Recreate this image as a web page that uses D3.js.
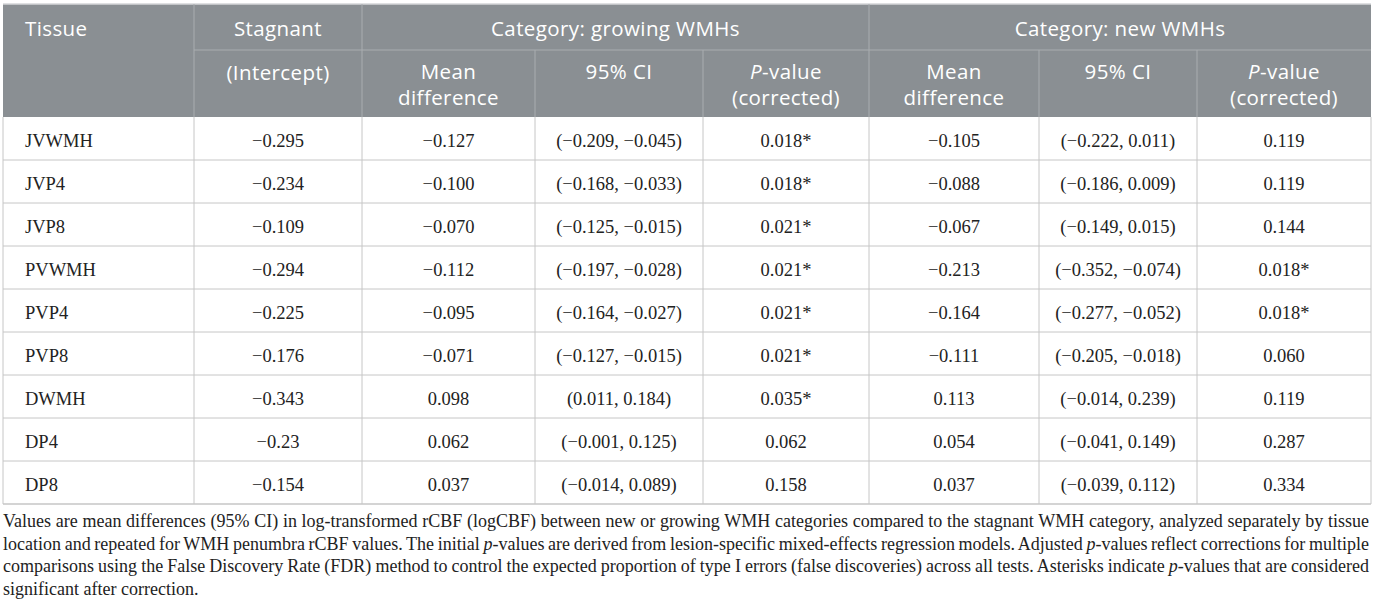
<!DOCTYPE html>
<meta charset="utf-8">
<script src="https://cdnjs.cloudflare.com/ajax/libs/d3/7.8.5/d3.min.js"></script>
<style>
body { margin: 0; background: #fff; }
</style>
<body>
<script>
// table values
var tissues  = ["JVWMH", "JVP4", "JVP8", "PVWMH", "PVP4", "PVP8", "DWMH", "DP4", "DP8"];
var stagnant = ["−0.295", "−0.234", "−0.109", "−0.294", "−0.225", "−0.176", "−0.343", "−0.23", "−0.154"];
var growMean = ["−0.127", "−0.100", "−0.070", "−0.112", "−0.095", "−0.071", "0.098", "0.062", "0.037"];
var growCI   = ["(−0.209, −0.045)", "(−0.168, −0.033)", "(−0.125, −0.015)", "(−0.197, −0.028)", "(−0.164, −0.027)",
                "(−0.127, −0.015)", "(0.011, 0.184)", "(−0.001, 0.125)", "(−0.014, 0.089)"];
var growP    = ["0.018*", "0.018*", "0.021*", "0.021*", "0.021*", "0.021*", "0.035*", "0.062", "0.158"];
var newMean  = ["−0.105", "−0.088", "−0.067", "−0.213", "−0.164", "−0.111", "0.113", "0.054", "0.037"];
var newCI    = ["(−0.222, 0.011)", "(−0.186, 0.009)", "(−0.149, 0.015)", "(−0.352, −0.074)", "(−0.277, −0.052)",
                "(−0.205, −0.018)", "(−0.014, 0.239)", "(−0.041, 0.149)", "(−0.039, 0.112)"];
var newP     = ["0.119", "0.119", "0.144", "0.018*", "0.018*", "0.060", "0.119", "0.287", "0.334"];

// header labels
var groupLabels = ["Category: growing WMHs", "Category: new WMHs"];
var subLabels = [["Mean", "difference"], ["95% CI"], ["P-value", "(corrected)"]];

var footLines = [
  "Values are mean differences (95% CI) in log-transformed rCBF (logCBF) between new or growing WMH categories compared to the stagnant WMH category, analyzed separately by tissue",
  "location and repeated for WMH penumbra rCBF values. The initial |p|-values are derived from lesion-specific mixed-effects regression models. Adjusted |p|-values reflect corrections for multiple",
  "comparisons using the False Discovery Rate (FDR) method to control the expected proportion of type I errors (false discoveries) across all tests. Asterisks indicate |p|-values that are considered",
  "significant after correction."
];

var w = 1375, h = 611;
var x0 = 3, x1 = 1371, tableTop = 4, hMid = 50, hBot = 117, bodyBot = 504;
var edges = [3, 194, 362, 535, 703, 869, 1039, 1197, 1371];
var headFill = "#8a8f93", headLine = "#a9adb0", bodyLine = "#c6c6c6";
var sans = "'Open Sans', sans-serif", serif = "'Liberation Serif', 'Times New Roman', serif";

var svg = d3.select("body").append("svg")
    .attr("width", w)
    .attr("height", h);

var y = d3.scaleBand().domain(tissues).range([hBot, bodyBot]);

var cols = [tissues, stagnant, growMean, growCI, growP, newMean, newCI, newP];

// header background
svg.append("rect").attr("x", x0).attr("y", tableTop).attr("width", x1 - x0).attr("height", hBot - tableTop)
  .attr("fill", headFill);
svg.append("line").attr("x1", x0).attr("x2", x1).attr("y1", tableTop).attr("y2", tableTop)
  .attr("stroke", "#d4d6d8").attr("stroke-width", 1.5);

// header lines
svg.append("line").attr("x1", edges[1]).attr("x2", x1).attr("y1", hMid).attr("y2", hMid)
  .attr("stroke", headLine);
[1, 2, 5].forEach(function(i) {
  svg.append("line").attr("x1", edges[i]).attr("x2", edges[i]).attr("y1", tableTop).attr("y2", hBot)
    .attr("stroke", headLine);
});
[3, 4, 6, 7].forEach(function(i) {
  svg.append("line").attr("x1", edges[i]).attr("x2", edges[i]).attr("y1", hMid).attr("y2", hBot)
    .attr("stroke", headLine);
});

function headText(x, yy, anchor) {
  return svg.append("text").attr("x", x).attr("y", yy).attr("text-anchor", anchor)
    .attr("fill", "#fff").style("font-family", sans).style("font-size", "20.5px")
    .style("letter-spacing", "0.4px");
}

headText(edges[0] + 22, 36, "start").text("Tissue");
headText((edges[1] + edges[2]) / 2, 36, "middle").text("Stagnant");
headText((edges[1] + edges[2]) / 2, 80, "middle").text("(Intercept)");
headText((edges[2] + edges[5]) / 2, 36, "middle").text(groupLabels[0]);
headText((edges[5] + edges[8]) / 2, 36, "middle").text(groupLabels[1]);

// sub headers: one text each, wrapped lines as tspans
[2, 5].forEach(function(start) {
  subLabels.forEach(function(lab, k) {
    var cx = (edges[start + k] + edges[start + k + 1]) / 2;
    var t = headText(cx, 79, "middle");
    lab.forEach(function(s, j) {
      var line = t.append("tspan").attr("x", cx).attr("dy", j === 0 ? 0 : 25.5);
      if (s.indexOf("P-") === 0) {
        line.append("tspan").style("font-style", "italic").text("P");
        line.append("tspan").text(s.slice(1));
      } else {
        line.text(s);
      }
    });
  });
});

// body lines
svg.selectAll("line.row").data(tissues.slice(1)).enter().append("line")
  .attr("class", "row")
  .attr("x1", x0).attr("x2", x1)
  .attr("y1", function(d) { return y(d); }).attr("y2", function(d) { return y(d); })
  .attr("stroke", bodyLine);
svg.append("line").attr("x1", x0).attr("x2", x1).attr("y1", bodyBot).attr("y2", bodyBot)
  .attr("stroke", bodyLine).attr("stroke-width", 1.5);
edges.forEach(function(e) {
  svg.append("line").attr("x1", e).attr("x2", e).attr("y1", hBot).attr("y2", bodyBot)
    .attr("stroke", bodyLine);
});

// body text
cols.forEach(function(col, c) {
  svg.selectAll("text.c" + c).data(col).enter().append("text")
    .attr("class", "c" + c)
    .attr("x", c === 0 ? edges[0] + 22 : (edges[c] + edges[c + 1]) / 2)
    .attr("y", function(d, i) { return y(tissues[i]) + y.bandwidth() / 2 + 8; })
    .attr("text-anchor", c === 0 ? "start" : "middle")
    .attr("fill", "#222")
    .style("font-family", serif).style("font-size", "18.5px")
    .text(function(d) { return d; });
});

// footnote, justified to table width
footLines.forEach(function(line, i) {
  var t = svg.append("text").attr("x", x0).attr("y", 527 + i * 22.7)
    .attr("fill", "#222").style("font-family", serif).style("font-size", "18px");
  line.split("|").forEach(function(part, k) {
    t.append("tspan").style("font-style", k % 2 ? "italic" : "normal").text(part);
  });
  if (i < footLines.length - 1) {
    var nat = t.node().getComputedTextLength();
    var spaces = line.split(" ").length - 1;
    t.style("word-spacing", ((x1 - 2 - x0 - nat) / spaces) + "px");
  }
});
</script>
</body>
</html>
